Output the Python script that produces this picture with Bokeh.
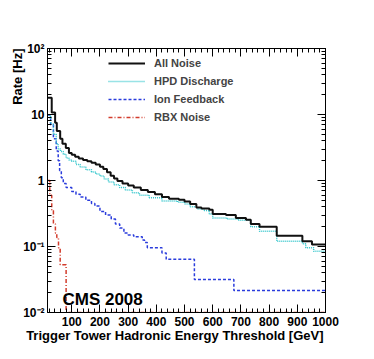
import math
from bokeh.plotting import figure
from bokeh.models import (Range1d, FixedTicker, SingleIntervalTicker, LinearAxis, LogAxis,
                          Legend, LegendItem, Label, Title, CustomJSTickFormatter)
from bokeh.embed import file_html
from bokeh.resources import INLINE

# ---- data (threshold bin left edges in GeV, rate in Hz) ----
x_max = 1000

all_x = [14, 29, 41, 47, 59, 67, 79, 90, 100, 112, 125, 140, 155, 170, 185, 200, 212, 225, 238, 250,
         262, 280, 300, 320, 345, 370, 395, 420, 445, 480, 500, 520, 542, 560, 588, 600, 647, 682, 718,
         735, 766, 827, 918, 952]
all_y = [18, 10.7, 7.5, 5.6, 4.3, 3.6, 3.1, 2.6, 2.45, 2.3, 2.15, 2.05, 1.95, 1.85, 1.75, 1.62, 1.5, 1.33,
         1.18, 1.07, 0.98, 0.9, 0.84, 0.78, 0.72, 0.67, 0.62, 0.56, 0.53, 0.51, 0.48, 0.44, 0.39, 0.375,
         0.36, 0.31, 0.30, 0.27, 0.255, 0.22, 0.20, 0.145, 0.12, 0.107]

hpd_x = [14, 25, 35, 45, 52, 60, 70, 80, 90, 100, 115, 130, 150, 170, 185, 200, 215, 230, 250, 270,
         290, 315, 340, 375, 420, 475, 500, 520, 545, 570, 588, 600, 650, 690, 735, 766, 827, 918, 930, 958]
hpd_y = [9.8, 7.2, 5.0, 3.6, 3.0, 2.75, 2.5, 2.2, 2.05, 1.95, 1.75, 1.6, 1.45, 1.35, 1.25, 1.17, 1.05,
         0.95, 0.86, 0.78, 0.72, 0.65, 0.6, 0.55, 0.49, 0.47, 0.44, 0.40, 0.37, 0.35, 0.31, 0.27, 0.26,
         0.25, 0.20, 0.17, 0.12, 0.11, 0.096, 0.085]

ion_x = [14, 25, 35, 45, 52, 57, 63, 70, 80, 100, 115, 130, 150, 170, 182, 200, 220, 240, 255, 270,
         285, 300, 320, 350, 358, 368, 420, 435, 535, 675]
ion_y = [9.8, 7.0, 4.3, 2.8, 2.0, 1.4, 1.1, 0.9, 0.78, 0.68, 0.62, 0.56, 0.5, 0.45, 0.41, 0.34, 0.3,
         0.26, 0.22, 0.19, 0.16, 0.15, 0.14, 0.125, 0.115, 0.096, 0.08, 0.064, 0.0315, 0.0215]

rbx_x = [14, 22, 29, 35, 42, 47, 53, 59, 80]
rbx_y = [1.0, 0.6, 0.35, 0.22, 0.16, 0.137, 0.096, 0.053, 0.01]

labels = ["All Noise", "HPD Discharge", "Ion Feedback", "RBX Noise"]
x_title = "Trigger Tower Hadronic Energy Threshold [GeV]"
y_title = "Rate [Hz]"
tag = "CMS 2008"

FONT = "Liberation Sans"

p = figure(frame_width=278, frame_height=264, x_range=Range1d(14, x_max), y_range=Range1d(0.01, 100),
           y_axis_type="log", output_backend="svg", toolbar_location=None,
           min_border_left=47, min_border_right=41, min_border_top=48, min_border_bottom=39)
p.xgrid.visible = False
p.ygrid.visible = False
p.outline_line_color = "black"
p.background_fill_color = "white"
p.border_fill_color = "white"

xt = SingleIntervalTicker(interval=100, num_minor_ticks=5)
yt = FixedTicker(ticks=[0.01, 0.1, 1, 10, 100],
                 minor_ticks=[m * 10.0 ** e for e in range(-2, 2) for m in range(2, 10)])
yfmt = CustomJSTickFormatter(code="""
const e = Math.round(Math.log10(tick));
if (e == 0) return "1";
if (e == 1) return "10";
const sup = {"-2": "\u207b\u00b2", "-1": "\u207b\u00b9", "2": "\u00b2"};
return "10" + sup[String(e)];
""")
empty = CustomJSTickFormatter(code='return "";')

def style(ax):
    ax.major_tick_in = 8
    ax.major_tick_out = 0
    ax.minor_tick_in = 4
    ax.minor_tick_out = 0
    ax.axis_line_color = "black"
    ax.major_tick_line_color = "black"
    ax.minor_tick_line_color = "black"
    ax.major_label_text_font = FONT
    ax.major_label_text_font_style = "bold"
    ax.major_label_text_font_size = "12px"
    ax.major_label_text_color = "black"

p.xaxis.ticker = xt
style(p.xaxis[0])
p.xaxis.major_label_standoff = 4
p.yaxis.ticker = yt
p.yaxis.formatter = yfmt
style(p.yaxis[0])
p.yaxis.major_label_standoff = 3

top = LinearAxis(ticker=SingleIntervalTicker(interval=100, num_minor_ticks=5), formatter=empty)
style(top)
p.add_layout(top, "above")
right = LogAxis(ticker=FixedTicker(ticks=[0.01, 0.1, 1, 10, 100],
                                   minor_ticks=[m * 10.0 ** e for e in range(-2, 2) for m in range(2, 10)]),
                formatter=empty)
style(right)
p.add_layout(right, "right")

def stepdata(xs, ys):
    return xs + [x_max], ys + [ys[-1]]

rx, ry = stepdata(rbx_x, rbx_y)
r_rbx = p.step(rx, ry, mode="after", line_color="#d23c2c", line_width=1.5, line_dash="4 2 1 2")
ix, iy = stepdata(ion_x, ion_y)
r_ion = p.step(ix, iy, mode="after", line_color="#2a3cdc", line_width=1.5, line_dash="3 2")
hx, hy = stepdata(hpd_x, hpd_y)
r_hpd = p.step(hx, hy, mode="after", line_color="#33c6cc", line_width=1.5, line_dash="1 1")
ax_, ay_ = stepdata(all_x, all_y)
r_all = p.step(ax_, ay_, mode="after", line_color="#111111", line_width=2)

legend = Legend(items=[LegendItem(label=labels[0], renderers=[r_all]),
                       LegendItem(label=labels[1], renderers=[r_hpd]),
                       LegendItem(label=labels[2], renderers=[r_ion]),
                       LegendItem(label=labels[3], renderers=[r_rbx])],
                location=(61, 186), orientation="vertical", glyph_width=37, glyph_height=18,
                label_height=18, spacing=0, padding=0, margin=0, label_standoff=9,
                border_line_color=None, background_fill_alpha=0,
                label_text_font=FONT, label_text_font_style="bold", label_text_font_size="11px")
p.add_layout(legend)

p.add_layout(Title(text=x_title, align="right", offset=2, standoff=-5, text_font=FONT,
                   text_font_style="bold", text_font_size="13px", text_color="black"), "below")
p.add_layout(Title(text=y_title, align="right", offset=0, standoff=-9, text_font=FONT,
                   text_font_style="bold", text_font_size="13px", text_color="black"), "left")
p.add_layout(Label(x=67, y=0.016, text=tag, text_align="left", text_baseline="alphabetic",
                   text_font=FONT, text_font_style="bold", text_font_size="17px", text_color="black"))

open("out.html", "w").write(file_html(p, INLINE))
